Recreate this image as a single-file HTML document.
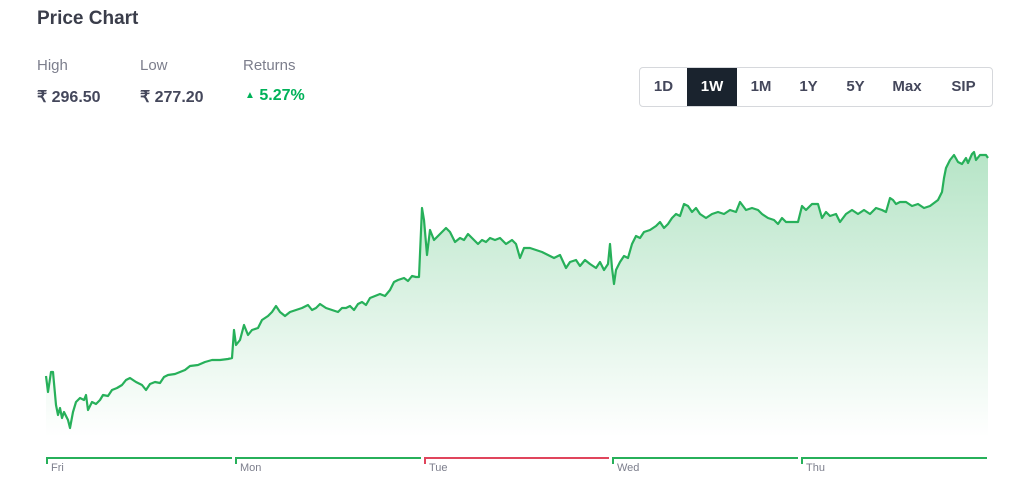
<!DOCTYPE html>
<html><head><meta charset="utf-8"><style>
body{margin:0;width:1024px;height:482px;background:#fff;font-family:"Liberation Sans",sans-serif;position:relative;overflow:hidden;color:#44475b}
.t{position:absolute;white-space:nowrap}
.btns{position:absolute;left:639px;top:67px;width:354px;height:40px;border:1px solid #d6d8dc;border-radius:4px;box-sizing:border-box;display:flex}
.btns div{flex:none;text-align:center;line-height:38px;font-size:15px;font-weight:bold;color:#44475b}
.btns .on{background:#1a232e;color:#fff}
</style></head><body>
<div class="t" style="left:37px;top:8px;font-size:19px;font-weight:bold;color:#3a3d4a">Price Chart</div>
<div class="t" style="left:37px;top:57px;font-size:15px;color:#7c7e8c">High</div>
<div class="t" style="left:140px;top:57px;font-size:15px;color:#7c7e8c">Low</div>
<div class="t" style="left:243px;top:57px;font-size:15px;color:#7c7e8c">Returns</div>
<div class="t" style="left:37px;top:87px;font-size:16px;font-weight:bold;color:#44475b">₹ 296.50</div>
<div class="t" style="left:140px;top:87px;font-size:16px;font-weight:bold;color:#44475b">₹ 277.20</div>
<div class="t" style="left:245px;top:87px;font-size:16px;font-weight:bold;color:#00b259"><span style="font-size:10px;vertical-align:2px">▲</span> 5.27%</div>
<div class="btns"><div style="width:47px">1D</div><div class="on" style="width:50px">1W</div><div style="width:48px">1M</div><div style="width:47px">1Y</div><div style="width:47px">5Y</div><div style="width:56px">Max</div><div style="width:57px">SIP</div></div>
<svg style="position:absolute;left:0;top:0" width="1024" height="482">
<defs><linearGradient id="g" gradientUnits="userSpaceOnUse" x1="0" y1="150" x2="0" y2="437"><stop offset="0" stop-color="#2db35d" stop-opacity=".35"/><stop offset="1" stop-color="#2db35d" stop-opacity="0"/></linearGradient></defs>
<polygon fill="url(#g)" points="46,437 46,376 48,392 51,372 53,372 56,405 58,415 60,408 62,418 64,412 66,416 68,420 70,428 73,412 76,402 80,398 84,400 86,395 88,410 92,402 96,404 100,400 103,395 108,396 112,390 117,388 122,385 126,380 130,378 136,382 142,385 146,390 150,384 155,382 160,383 164,377 168,375 175,374 180,372 185,370 190,366 198,365 205,362 212,360 220,360 228,359 232,358 234,330 236,345 240,340 244,325 248,335 252,330 258,328 262,320 268,316 272,312 276,306 280,312 285,316 290,312 296,310 302,308 308,305 312,310 316,308 320,304 326,308 332,310 338,312 342,308 346,308 350,306 354,310 358,304 362,302 366,305 370,298 375,296 380,294 385,296 390,290 394,282 398,280 404,278 408,281 412,276 416,277 419,277 422,208 424,220 427,255 430,230 434,240 438,236 442,232 446,228 450,232 455,242 460,238 464,240 468,234 472,238 478,244 482,240 486,242 490,238 495,240 500,238 506,244 512,240 516,244 520,258 524,248 530,248 536,250 542,252 548,255 554,258 560,255 566,268 570,262 576,260 580,266 585,260 590,264 596,268 600,262 604,270 608,264 610,244 612,268 614,284 616,270 620,262 624,256 628,258 632,244 636,236 640,238 644,232 650,230 656,226 660,222 664,228 668,224 672,218 676,214 680,216 684,204 688,206 692,212 696,208 700,214 706,218 712,214 718,212 724,214 730,210 736,212 740,202 746,210 752,208 758,210 762,214 768,218 774,220 778,224 782,218 786,222 792,222 798,222 802,206 806,210 812,204 818,204 822,218 826,212 830,216 836,214 840,222 846,214 852,210 858,214 864,210 870,214 876,208 882,210 886,212 890,198 893,200 896,204 900,202 906,202 912,206 918,204 924,208 930,206 938,200 942,192 944,178 946,168 950,160 954,155 958,162 962,164 966,158 968,163 972,154 974,152 976,160 980,155 986,155 988,158 988,437"/>
<polyline fill="none" stroke="#27b05a" stroke-width="2.2" stroke-linejoin="round" points="46,376 48,392 51,372 53,372 56,405 58,415 60,408 62,418 64,412 66,416 68,420 70,428 73,412 76,402 80,398 84,400 86,395 88,410 92,402 96,404 100,400 103,395 108,396 112,390 117,388 122,385 126,380 130,378 136,382 142,385 146,390 150,384 155,382 160,383 164,377 168,375 175,374 180,372 185,370 190,366 198,365 205,362 212,360 220,360 228,359 232,358 234,330 236,345 240,340 244,325 248,335 252,330 258,328 262,320 268,316 272,312 276,306 280,312 285,316 290,312 296,310 302,308 308,305 312,310 316,308 320,304 326,308 332,310 338,312 342,308 346,308 350,306 354,310 358,304 362,302 366,305 370,298 375,296 380,294 385,296 390,290 394,282 398,280 404,278 408,281 412,276 416,277 419,277 422,208 424,220 427,255 430,230 434,240 438,236 442,232 446,228 450,232 455,242 460,238 464,240 468,234 472,238 478,244 482,240 486,242 490,238 495,240 500,238 506,244 512,240 516,244 520,258 524,248 530,248 536,250 542,252 548,255 554,258 560,255 566,268 570,262 576,260 580,266 585,260 590,264 596,268 600,262 604,270 608,264 610,244 612,268 614,284 616,270 620,262 624,256 628,258 632,244 636,236 640,238 644,232 650,230 656,226 660,222 664,228 668,224 672,218 676,214 680,216 684,204 688,206 692,212 696,208 700,214 706,218 712,214 718,212 724,214 730,210 736,212 740,202 746,210 752,208 758,210 762,214 768,218 774,220 778,224 782,218 786,222 792,222 798,222 802,206 806,210 812,204 818,204 822,218 826,212 830,216 836,214 840,222 846,214 852,210 858,214 864,210 870,214 876,208 882,210 886,212 890,198 893,200 896,204 900,202 906,202 912,206 918,204 924,208 930,206 938,200 942,192 944,178 946,168 950,160 954,155 958,162 962,164 966,158 968,163 972,154 974,152 976,160 980,155 986,155 988,158"/>
<g fill="none" stroke-width="2">
<path d="M47,464 V458 H232" stroke="#27b05a"/>
<path d="M236,464 V458 H421" stroke="#27b05a"/>
<path d="M425,464 V458 H609" stroke="#e0455c"/>
<path d="M613,464 V458 H798" stroke="#27b05a"/>
<path d="M802,464 V458 H987" stroke="#27b05a"/>
</g>
<g font-size="11" fill="#7c7e8c" font-family="Liberation Sans,sans-serif">
<text x="51" y="471">Fri</text><text x="240" y="471">Mon</text><text x="429" y="471">Tue</text><text x="617" y="471">Wed</text><text x="806" y="471">Thu</text>
</g>
</svg>
</body></html>
